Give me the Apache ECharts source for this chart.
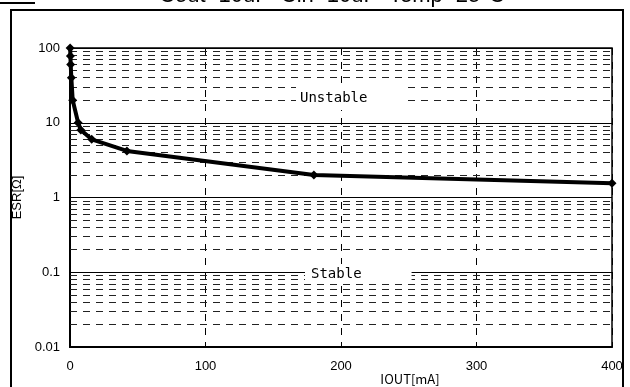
<!DOCTYPE html>
<html>
<head>
<meta charset="utf-8">
<script src="https://cdn.jsdelivr.net/npm/echarts@6/dist/echarts.min.js"></script>
<style>
  html, body { margin: 0; padding: 0; background: #fff; }
  #chart { width: 630px; height: 387px; }
</style>
</head>
<body>
<div id="chart"></div>
<script>
// 数据
var ioutMA = [0.1, 0.3, 0.5, 1, 2, 6, 8, 16, 42, 180, 400];
var esrOhm = [100, 78, 60, 40, 20, 10, 8, 6, 4.2, 2, 1.55];
var xTicks = [0, 100, 200, 300, 400];
var yTickLabels = ['0.01', '0.1', '1', '10', '100'];
var decades = [0.01, 0.1, 1, 10];
var minorSteps = [2, 3, 4, 5, 6, 7, 8, 9];

var minorLines = [];
decades.forEach(function (d) {
    minorSteps.forEach(function (m) {
        minorLines.push({ yAxis: +(d * m).toPrecision(3) });
    });
});

var points = ioutMA.map(function (x, i) { return [x, esrOhm[i]]; });

var box = document.getElementById('chart');
var myChart = echarts.init(box);

var option = {
    animation: false,
    backgroundColor: '#fff',
    grid: {
        left: 70, right: 18, top: 48, bottom: 40,
        show: true, borderColor: '#000', borderWidth: 1.5,
        backgroundColor: 'transparent'
    },
    xAxis: {
        type: 'value',
        min: xTicks[0], max: xTicks[xTicks.length - 1], interval: 100,
        axisLine: { show: true, onZero: false, lineStyle: { color: '#000', width: 2 } },
        axisTick: { show: false },
        axisLabel: { color: '#000', fontSize: 13, fontFamily: 'Liberation Sans', margin: 13 },
        splitLine: { show: true, lineStyle: { color: '#000', width: 1, type: [7, 7] } }
    },
    yAxis: {
        type: 'log', logBase: 10,
        min: 0.01, max: 100, interval: 1,
        name: 'ESR[Ω]', nameLocation: 'middle', nameGap: 38,
        nameTextStyle: { color: '#000', fontSize: 13, fontFamily: 'Liberation Sans' },
        axisLine: { show: true, lineStyle: { color: '#000', width: 2 } },
        axisTick: { show: false },
        axisLabel: {
            color: '#000', fontSize: 13, fontFamily: 'Liberation Sans', margin: 10,
            formatter: function (v) {
                return yTickLabels[Math.round(Math.log10(v)) + 2];
            }
        },
        splitLine: { show: true, lineStyle: { color: '#000', width: 1 } }
    },
    graphic: [
        { type: 'line', z: 10, shape: { x1: 0, y1: 3, x2: 35, y2: 3 }, style: { stroke: '#000', lineWidth: 2 } },
        { type: 'rect', z: 10, shape: { x: 11, y: 10, width: 612, height: 400 }, style: { stroke: '#000', lineWidth: 2, fill: null } },
        { type: 'text', z: 10, x: 332, y: 7, style: {
            text: 'Cout=10uF  Cin=10uF  Temp=25°C', fill: '#000',
            font: '22px "Liberation Sans"', textAlign: 'center', textVerticalAlign: 'bottom' } },
        { type: 'text', z: 20, x: 296, y: 86, style: {
            text: 'Unstable', fill: '#000', font: '14px "DejaVu Sans Mono"',
            backgroundColor: '#fff', padding: [5, 40, 5, 4] } },
        { type: 'text', z: 20, x: 305, y: 264, style: {
            text: 'Stable', fill: '#000', font: '14px "DejaVu Sans Mono"',
            backgroundColor: '#fff', padding: [3, 50, 3, 6] } },
        { type: 'text', z: 10, x: 410, y: 379, style: {
            text: 'IOUT[mA]', fill: '#000', font: '13px "Noto Sans CJK JP"',
            textAlign: 'center', textVerticalAlign: 'middle' } }
    ],
    series: [
        {
            name: 'ESR',
            type: 'line',
            data: points,
            clip: false,
            z: 5,
            symbol: 'diamond',
            symbolSize: 9,
            itemStyle: { color: '#000' },
            lineStyle: { color: '#000', width: 4 },
            markLine: {
                silent: true,
                symbol: 'none',
                z: 1,
                label: { show: false },
                lineStyle: { color: '#222', width: 1, type: [7, 6] },
                data: minorLines
            }
        }
    ]
};

myChart.setOption(option);
</script>
</body>
</html>
